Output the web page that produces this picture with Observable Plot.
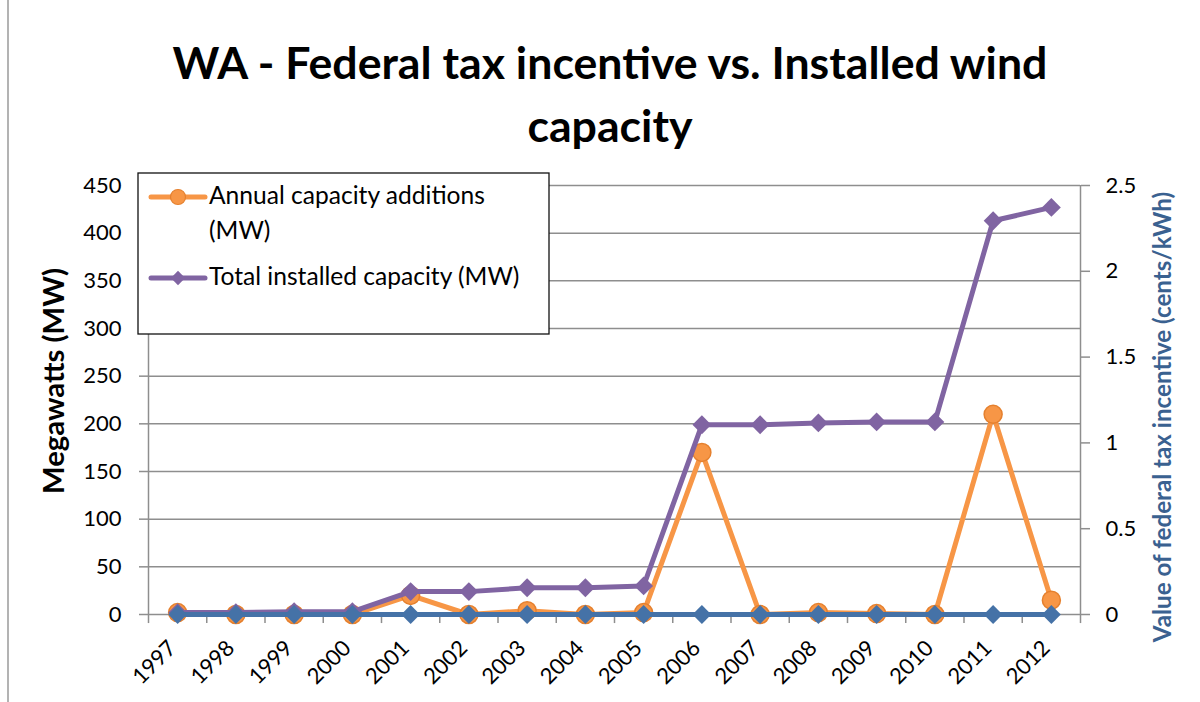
<!DOCTYPE html>
<html><head><meta charset="utf-8">
<script src="https://cdn.jsdelivr.net/npm/d3@7"></script>
<script src="https://cdn.jsdelivr.net/npm/@observablehq/plot@0.6"></script>
<style>
body{margin:0;background:#fff;font-family:Lato,"Open Sans",sans-serif;}
#wrap{position:relative;width:1200px;height:702px;overflow:hidden;background:#fff;}
#chart{position:absolute;left:0;top:160px;}
#overlay{position:absolute;left:0;top:0;pointer-events:none;}
</style></head><body>
<div id="wrap">
  <div id="chart"></div>
  <svg id="overlay" width="1200" height="702"></svg>
</div>
<script>
// ---- data ----
const years = [1997,1998,1999,2000,2001,2002,2003,2004,2005,2006,2007,2008,2009,2010,2011,2012];
const annualAdditions = [2,0,0,0,20,0,4,0,2,170,0,2,1,0,210,15];        // MW
const totalInstalled  = [2,2,3,3,24,24,28,28,30,199,199,201,202,202,413,427]; // MW
const taxIncentive    = [0,0,0,0,0,0,0,0,0,0,0,0,0,0,0,0];               // cents/kWh
const leftTicks  = [0,50,100,150,200,250,300,350,400,450];
const rightTicks = [0,0.5,1,1.5,2,2.5];
const titleLines = ["WA - Federal tax incentive vs. Installed wind", "capacity"];
const yLabelLeft  = "Megawatts (MW)";
const yLabelRight = "Value of federal tax incentive (cents/kWh)";
const seriesNames = ["Annual capacity additions", "(MW)", "Total installed capacity (MW)"];

// ---- styles ----
const ORANGE = "#F79646", ORANGE_EDGE = "#E5802E", PURPLE = "#8064A2", BLUE = "#4572A7", GRID = "#8e8e8e";
const k = leftTicks[leftTicks.length-1] / rightTicks[rightTicks.length-1];

const rows = years.map((yr,i)=>({year:yr, add:annualAdditions[i], total:totalInstalled[i], tax:taxIncentive[i]*k}));
const bounds = years.map(y=>y-0.5).concat([years[years.length-1]+0.5]);

const chart = Plot.plot({
  width:1200, height:542,
  marginTop:25, marginBottom:88, marginLeft:148, marginRight:120,
  style:{fontFamily:"Lato, 'Open Sans', sans-serif", fontSize:"22px", color:"#000", background:"transparent", overflow:"visible"},
  x:{type:"linear", domain:[bounds[0], bounds[bounds.length-1]]},
  y:{domain:[leftTicks[0], leftTicks[leftTicks.length-1]]},
  marks:[
    Plot.ruleY(leftTicks.slice(1), {stroke:GRID, strokeWidth:1.5}),
    Plot.ruleX([bounds[0], bounds[bounds.length-1]], {y1:leftTicks[0], y2:leftTicks[leftTicks.length-1], stroke:GRID, strokeWidth:1.5}),
    Plot.ruleY([0], {stroke:GRID, strokeWidth:1.5}),
    Plot.ruleX(bounds, {y1:0, y2:-9.5, stroke:GRID, strokeWidth:1.5}),
    Plot.axisY({ticks:leftTicks, tickSize:9, tickPadding:18, label:null, stroke:GRID, strokeWidth:1.5, fill:"#000", fontSize:22}),
    Plot.axisY({anchor:"right", ticks:rightTicks.map(v=>v*k), tickFormat:d=>String(+(d/k).toFixed(2)), tickSize:9, tickPadding:16, label:null, stroke:GRID, strokeWidth:1.5, fill:"#000", fontSize:22}),
    Plot.axisX({ticks:years, tickFormat:d=>String(d), tickRotate:-45, tickSize:0, tickPadding:30, dx:-5, label:null, fill:"#000", fontSize:22}),
    Plot.line(rows, {x:"year", y:"add", stroke:ORANGE, strokeWidth:5, strokeLinejoin:"round"}),
    Plot.dot(rows, {x:"year", y:"add", r:9, fill:ORANGE, stroke:ORANGE_EDGE, strokeWidth:1.5}),
    Plot.line(rows, {x:"year", y:"total", stroke:PURPLE, strokeWidth:5, strokeLinejoin:"round"}),
    Plot.dot(rows, {x:"year", y:"total", symbol:"diamond2", r:8.5, fill:PURPLE, stroke:"none"}),
    Plot.line(rows, {x:"year", y:"tax", stroke:BLUE, strokeWidth:5, strokeLinejoin:"round"}),
    Plot.dot(rows, {x:"year", y:"tax", symbol:"diamond2", r:8.5, fill:BLUE, stroke:"none"})
  ]
});
document.getElementById("chart").appendChild(chart);

// ---- overlay: frame, title, axis labels, legend ----
const ov = d3.select("#overlay");
ov.append("line").attr("x1",8).attr("x2",8).attr("y1",0).attr("y2",702).attr("stroke","#9a9a9a").attr("stroke-width",1.5);

function fit(sel, target){
  const n = sel.node(); let fs = parseFloat(sel.attr("font-size"));
  for(let i=0;i<4;i++){ const w = n.getComputedTextLength(); if(!w) break; fs = fs*target/w; sel.attr("font-size", fs); }
}
const t1 = ov.append("text").attr("x",610).attr("y",79).attr("text-anchor","middle").attr("font-weight",700).attr("font-size",40).text(titleLines[0]);
fit(t1, 875);
ov.append("text").attr("x",610).attr("y",142).attr("text-anchor","middle").attr("font-weight",700).attr("font-size",t1.attr("font-size")).text(titleLines[1]);

const yl = ov.append("text").attr("transform","translate(64,381) rotate(-90)").attr("text-anchor","middle").attr("font-weight",700).attr("font-size",22).text(yLabelLeft);
fit(yl, 226);
const yr = ov.append("text").attr("transform","translate(1171,417) rotate(-90)").attr("text-anchor","middle").attr("font-weight",700).attr("font-size",22).attr("fill","#3A6190").text(yLabelRight);
fit(yr, 450);

// legend
const lg = ov.append("g");
lg.append("rect").attr("x",138).attr("y",173).attr("width",411).attr("height",161).attr("fill","#fff").attr("stroke","#111").attr("stroke-width",1.3);
lg.append("line").attr("x1",151).attr("x2",205).attr("y1",197).attr("y2",197).attr("stroke",ORANGE).attr("stroke-width",5).attr("stroke-linecap","round");
lg.append("circle").attr("cx",178).attr("cy",197).attr("r",7.5).attr("fill",ORANGE).attr("stroke",ORANGE_EDGE).attr("stroke-width",1.2);
lg.append("line").attr("x1",151).attr("x2",205).attr("y1",278).attr("y2",278).attr("stroke",PURPLE).attr("stroke-width",5).attr("stroke-linecap","round");
lg.append("path").attr("d",d3.symbol(d3.symbolDiamond2, 130)()).attr("transform","translate(178,278)").attr("fill",PURPLE);
const la = lg.append("text").attr("x",209).attr("y",204).attr("font-size",21).text(seriesNames[0]);
fit(la, 276);
lg.append("text").attr("x",209).attr("y",239).attr("font-size",la.attr("font-size")).text(seriesNames[1]);
lg.append("text").attr("x",209).attr("y",285).attr("font-size",la.attr("font-size")).text(seriesNames[2]);
</script>
</body></html>
